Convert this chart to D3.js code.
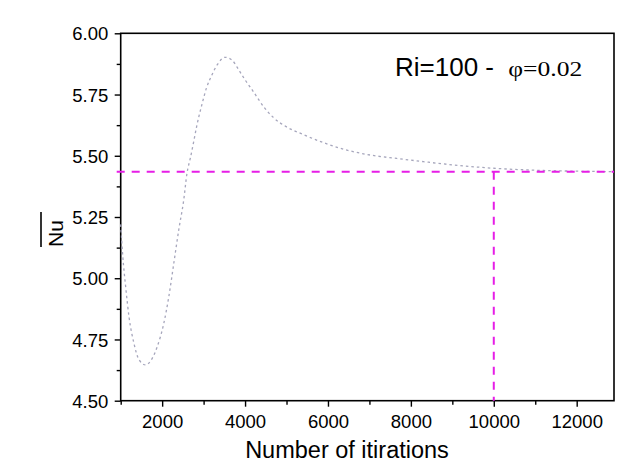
<!DOCTYPE html>
<html>
<head>
<meta charset="utf-8">
<script src="https://cdn.jsdelivr.net/npm/d3@7"></script>
<style>
  body { margin: 0; background: #fff; }
  text { font-family: "Liberation Sans", Arial, sans-serif; fill: #000; }
</style>
</head>
<body>
<script>
  var width = 640;
  var height = 465;

  // average Nusselt number vs iteration count
  var iterations = [1000, 1050, 1120, 1200, 1320, 1440, 1600, 1760, 1880, 2040, 2160, 2280, 2400, 2520,
    2600, 2680, 2760, 2840, 2960, 3070, 3200, 3330, 3520, 3700, 3850, 4000, 4200, 4450, 4690,
    5000, 5400, 5900, 6460, 7020, 7660, 8300, 9000, 10000, 11000, 12000, 12900];
  var nu = [5.22, 5.09, 4.965, 4.843, 4.734, 4.668, 4.646, 4.673, 4.72, 4.816, 4.924, 5.06, 5.197, 5.319,
    5.43, 5.49, 5.557, 5.626, 5.71, 5.777, 5.83, 5.872, 5.902, 5.888, 5.85, 5.81, 5.762, 5.70, 5.655,
    5.618, 5.587, 5.553, 5.523, 5.503, 5.489, 5.476, 5.463, 5.449, 5.441, 5.437, 5.435];

  // converged value and the iteration where it is reached
  var refNu = 5.435;
  var refIter = 10000;

  var xTicks = [2000, 4000, 6000, 8000, 10000, 12000];
  var xMinor = [1000, 3000, 5000, 7000, 9000, 11000];
  var yTicks = [4.50, 4.75, 5.00, 5.25, 5.50, 5.75, 6.00];
  var yMinor = [4.625, 4.875, 5.125, 5.375, 5.625, 5.875];

  var margin = {left: 120.7, right: 26, top: 33.3, bottom: 64.3};
  var w = width - margin.left - margin.right;
  var h = height - margin.top - margin.bottom;

  var svg = d3.select("body")
    .append("svg")
    .attr("width", width)
    .attr("height", height);

  var g = svg.append("g")
    .attr("transform", "translate(" + margin.left + "," + margin.top + ")");

  var x = d3.scaleLinear().domain([1000, 12900]).range([0, w]);
  var y = d3.scaleLinear().domain([4.5, 6.0]).range([h, 0]);

  // minor ticks
  g.append("g")
    .attr("transform", "translate(0," + h + ")")
    .call(d3.axisBottom(x).tickValues(xMinor).tickSize(4).tickFormat(""))
    .call(function(a) { a.select(".domain").remove(); });
  g.append("g")
    .call(d3.axisLeft(y).tickValues(yMinor).tickSize(4).tickFormat(""))
    .call(function(a) { a.select(".domain").remove(); });

  // major ticks + labels
  var xAxis = g.append("g")
    .attr("transform", "translate(0," + h + ")")
    .call(d3.axisBottom(x).tickValues(xTicks).tickSize(6).tickFormat(d3.format("d")));
  xAxis.select(".domain").remove();
  xAxis.selectAll("text")
    .attr("y", 27).attr("dy", 0)
    .style("font-size", "18.5px");

  var yAxis = g.append("g")
    .call(d3.axisLeft(y).tickValues(yTicks).tickSize(6).tickFormat(d3.format(".2f")));
  yAxis.select(".domain").remove();
  yAxis.selectAll("text")
    .attr("x", -12.4)
    .attr("dy", "0.36em")
    .style("font-size", "18.5px");

  g.selectAll(".tick line").attr("stroke", "#000").attr("stroke-width", 1.4);

  // frame
  g.append("rect")
    .attr("width", w)
    .attr("height", h)
    .attr("fill", "none")
    .attr("stroke", "#000")
    .attr("stroke-width", 1.6);

  // curve
  var line = d3.line()
    .x(function(d, i) { return x(iterations[i]); })
    .y(function(d) { return y(d); })
    .curve(d3.curveMonotoneX);

  g.append("path")
    .datum(nu)
    .attr("d", line)
    .attr("fill", "none")
    .attr("stroke", "#a6a6bc")
    .attr("stroke-width", 1.3)
    .attr("stroke-dasharray", "2.5,3");

  // reference lines
  g.append("line")
    .attr("x1", x(1000) - 4).attr("x2", w)
    .attr("y1", y(refNu)).attr("y2", y(refNu))
    .attr("stroke", "#e61ee6")
    .attr("stroke-width", 2)
    .attr("stroke-dasharray", "8,7");

  g.append("line")
    .attr("x1", x(refIter)).attr("x2", x(refIter))
    .attr("y1", y(refNu)).attr("y2", h)
    .attr("stroke", "#e61ee6")
    .attr("stroke-width", 2)
    .attr("stroke-dasharray", "8,7");

  // annotation
  svg.append("text")
    .attr("x", 395).attr("y", 76)
    .style("font-size", "26px")
    .text("Ri=100 - ");
  svg.append("text")
    .attr("x", 508.3).attr("y", 76)
    .attr("textLength", 74)
    .attr("lengthAdjust", "spacingAndGlyphs")
    .style("font-family", "'Liberation Serif', 'Times New Roman', serif")
    .style("font-size", "20px")
    .text("φ=0.02");

  // axis titles
  svg.append("text")
    .attr("x", 347).attr("y", 458)
    .attr("text-anchor", "middle")
    .style("font-size", "23.5px")
    .text("Number of itirations");

  svg.append("text")
    .attr("transform", "translate(63,233.5) rotate(-90)")
    .attr("text-anchor", "middle")
    .style("font-size", "21px")
    .text("Nu");
  svg.append("line")
    .attr("x1", 41).attr("x2", 41)
    .attr("y1", 212).attr("y2", 247)
    .attr("stroke", "#000")
    .attr("stroke-width", 1.6);
</script>
</body>
</html>
